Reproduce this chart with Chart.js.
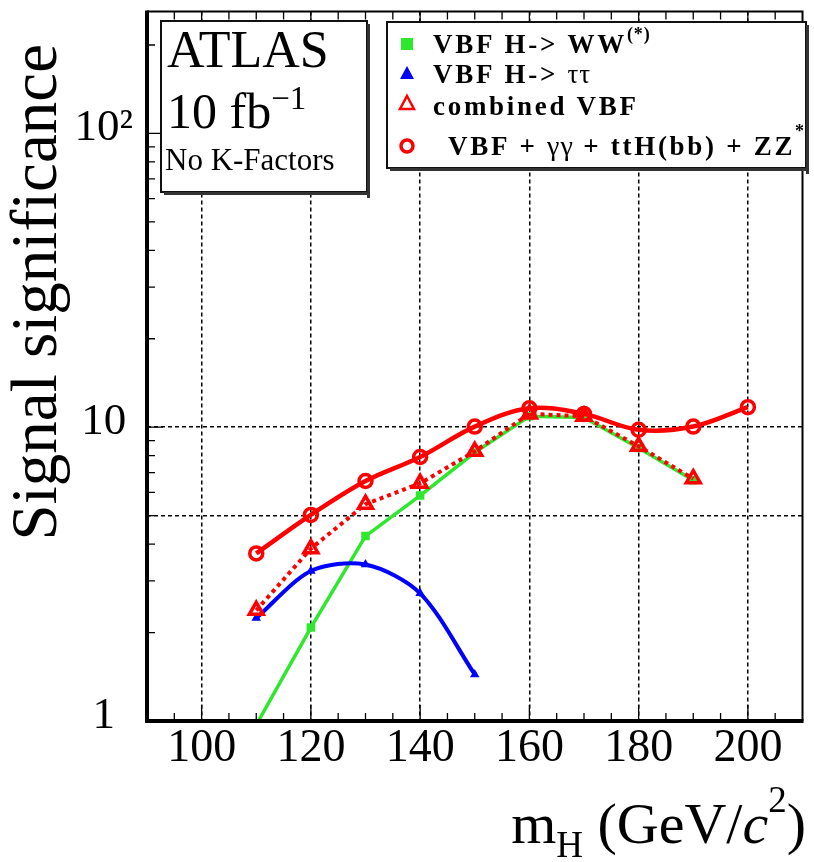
<!DOCTYPE html>
<html>
<head>
<meta charset="utf-8">
<script src="https://cdn.jsdelivr.net/npm/chart.js@4.4.1/dist/chart.umd.min.js"></script>
<style>
html,body{margin:0;padding:0;background:#fff;}
#wrap{width:814px;height:862px;}
</style>
</head>
<body>
<div id="wrap"><canvas id="c" width="814" height="862"></canvas></div>
<script>
// ---- data ----
const wwMass = [110, 120, 130, 140, 150, 160, 170, 180, 190];
const wwSignif = [0.97, 2.08, 4.26, 5.85, 8.2, 10.9, 10.8, 8.5, 6.6];

const tautauMass = [110, 120, 130, 140, 150];
const tautauSignif = [2.24, 3.24, 3.41, 2.72, 1.44];

const combinedMass = [110, 120, 130, 140, 150, 160, 170, 180, 190];
const combinedSignif = [2.38, 3.86, 5.47, 6.44, 8.28, 11.1, 10.9, 8.61, 6.68];

const allChannelsMass = [110, 120, 130, 140, 150, 160, 170, 180, 190, 200];
const allChannelsSignif = [3.72, 5.03, 6.56, 7.92, 10.05, 11.6, 11.1, 9.8, 10.05, 11.7];

const xTickValues = [95,100,105,110,115,120,125,130,135,140,145,150,155,160,165,170,175,180,185,190,195,200,205];
const xLabelValues = [100, 120, 140, 160, 180, 200];
const yTickValues = [1,2,3,4,5,6,7,8,9,10,20,30,40,50,60,70,80,90,100,200];
const yTickLabels = {1: '1', 10: '10', 100: '10\u00B2'};
const yGridValues = [5, 10];

const legendEntries = ['VBF H-> WW(*)', 'VBF H-> \u03C4\u03C4', 'combined VBF', 'VBF + \u03B3\u03B3 + ttH(bb) + ZZ*'];

// ---- colours ----
const GREEN = '#2ee82e';
const BLUE = '#0000ff';
const RED = '#ff0000';

const toXY = (xs, ys) => xs.map((x, i) => ({x: x, y: ys[i]}));
const SERIF = "'Liberation Serif', 'DejaVu Serif', serif";

function drawRich(ctx, x, y, parts, align) {
  const widths = parts.map(p => {
    ctx.font = p.font;
    ctx.letterSpacing = p.ls || '0px';
    return ctx.measureText(p.text).width;
  });
  const total = widths.reduce((a, b) => a + b, 0);
  let cx = align === 'right' ? x - total : x;
  parts.forEach((p, i) => {
    ctx.font = p.font;
    ctx.letterSpacing = p.ls || '0px';
    ctx.fillText(p.text, cx, y + (p.dy || 0));
    cx += widths[i];
  });
  ctx.letterSpacing = '0px';
}

function paveBox(ctx, x1, y1, x2, y2) {
  ctx.save();
  ctx.fillStyle = '#ffffff';
  ctx.fillRect(x1, y1, x2 - x1, y2 - y1);
  ctx.strokeStyle = '#111';
  ctx.lineWidth = 2;
  ctx.strokeRect(x1, y1, x2 - x1, y2 - y1);
  // shadow (bottom / right)
  ctx.fillStyle = '#333';
  ctx.fillRect(x1 + 3, y2, x2 - x1, 3);
  ctx.fillRect(x2, y1 + 3, 3, y2 - y1 + 3);
  ctx.restore();
}

const framePlugin = {
  id: 'frame',
  afterDatasetsDraw(chart) {
    const ctx = chart.ctx;
    const a = chart.chartArea;
    const xs = chart.scales.x, ys = chart.scales.y;
    ctx.save();
    ctx.strokeStyle = '#000';
    // inner tick marks
    ctx.lineWidth = 1.3;
    ctx.beginPath();
    xTickValues.forEach(v => {
      const px = xs.getPixelForValue(v);
      const len = xLabelValues.includes(v) ? 16 : 8;
      ctx.moveTo(px, a.bottom); ctx.lineTo(px, a.bottom - len);
      ctx.moveTo(px, a.top); ctx.lineTo(px, a.top + len);
    });
    yTickValues.forEach(v => {
      const py = ys.getPixelForValue(v);
      const len = yTickLabels[v] ? 16 : 8;
      ctx.moveTo(a.left, py); ctx.lineTo(a.left + len, py);
    });
    ctx.stroke();
    // frame
    ctx.lineWidth = 2;
    ctx.beginPath();
    ctx.moveTo(a.left, a.top); ctx.lineTo(a.right, a.top); ctx.lineTo(a.right, a.bottom);
    ctx.stroke();
    ctx.lineWidth = 4;
    ctx.beginPath();
    ctx.moveTo(a.left, a.top - 1); ctx.lineTo(a.left, a.bottom); ctx.lineTo(a.right + 1, a.bottom);
    ctx.stroke();

    // ATLAS box
    paveBox(ctx, 161, 21, 367, 192);
    ctx.fillStyle = '#000';
    ctx.textBaseline = 'alphabetic';
    ctx.textAlign = 'left';
    drawRich(ctx, 167, 67, [{text: 'ATLAS', font: '52px ' + SERIF}]);
    drawRich(ctx, 167, 128, [
      {text: '10 fb', font: '50px ' + SERIF},
      {text: '\u22121', font: '33px ' + SERIF, dy: -19}
    ]);
    drawRich(ctx, 165, 170, [{text: 'No K-Factors', font: '31px ' + SERIF}]);

    // Legend box
    paveBox(ctx, 387, 22, 806, 168);
    const B = 'bold 27px ' + SERIF;
    const LS = '2.7px';
    // markers
    const mx = 407;
    ctx.fillStyle = GREEN;
    ctx.fillRect(mx - 6, 44 - 6, 12, 12);
    ctx.fillStyle = BLUE;
    ctx.beginPath(); ctx.moveTo(mx, 66); ctx.lineTo(mx + 7, 79); ctx.lineTo(mx - 7, 79); ctx.closePath(); ctx.fill();
    ctx.strokeStyle = RED; ctx.lineWidth = 2.5;
    ctx.beginPath(); ctx.moveTo(mx, 96); ctx.lineTo(mx + 7, 109); ctx.lineTo(mx - 7, 109); ctx.closePath(); ctx.stroke();
    ctx.lineWidth = 3.5;
    ctx.beginPath(); ctx.arc(mx, 146, 6, 0, Math.PI * 2); ctx.stroke();
    ctx.fillStyle = '#000';
    drawRich(ctx, 433, 53, [
      {text: 'VBF H-> WW', font: B, ls: LS},
      {text: '(*)', font: 'bold 18px ' + SERIF, dy: -13, ls: '1px'}
    ]);
    drawRich(ctx, 433, 83, [
      {text: 'VBF H-> ', font: B, ls: LS},
      {text: '\u03C4\u03C4', font: '27px ' + SERIF, ls: '1px'}
    ]);
    drawRich(ctx, 433, 115, [{text: 'combined VBF', font: B, ls: LS}]);
    drawRich(ctx, 448, 155, [
      {text: 'VBF + ', font: B, ls: LS},
      {text: '\u03B3\u03B3', font: '28px ' + SERIF, ls: '1px'},
      {text: ' + ttH(bb) + ZZ', font: B, ls: LS},
      {text: '*', font: 'bold 18px ' + SERIF, dy: -18}
    ]);

    // x-axis title
    drawRich(ctx, 806, 843, [
      {text: 'm', font: '58px ' + SERIF},
      {text: 'H', font: '37px ' + SERIF, dy: 14},
      {text: ' (GeV/', font: '58px ' + SERIF},
      {text: 'c', font: 'italic 58px ' + SERIF},
      {text: '2', font: '37px ' + SERIF, dy: -31},
      {text: ')', font: '58px ' + SERIF}
    ], 'right');
    ctx.restore();
  }
};

const chart = new Chart(document.getElementById('c'), {
  type: 'line',
  data: {
    datasets: [
      {
        label: legendEntries[0], data: toXY(wwMass, wwSignif), order: 4,
        borderColor: GREEN, backgroundColor: GREEN, borderWidth: 3.5, tension: 0,
        pointStyle: 'rect', pointRadius: 6, pointBorderWidth: 0, pointBackgroundColor: GREEN
      },
      {
        label: legendEntries[1], data: toXY(tautauMass, tautauSignif), order: 3,
        borderColor: BLUE, backgroundColor: BLUE, borderWidth: 4, tension: 0.3,
        pointStyle: 'triangle', pointRadius: 5.5, pointBorderWidth: 0, pointBackgroundColor: BLUE
      },
      {
        label: legendEntries[3], data: toXY(allChannelsMass, allChannelsSignif), order: 2,
        borderColor: RED, borderWidth: 4.5, tension: 0.35,
        pointStyle: 'circle', pointRadius: 6.5, pointBorderWidth: 3.5,
        pointBorderColor: RED, pointBackgroundColor: 'rgba(255,255,255,0)'
      },
      {
        label: legendEntries[2], data: toXY(combinedMass, combinedSignif), order: 1,
        borderColor: RED, borderWidth: 4, borderDash: [4, 4], tension: 0,
        pointStyle: 'triangle', pointRadius: 8, pointBorderWidth: 3.5,
        pointBorderColor: RED, pointBackgroundColor: 'rgba(255,255,255,0)'
      }
    ]
  },
  options: {
    responsive: false,
    animation: false,
    devicePixelRatio: 1,
    layout: {padding: {top: 6, right: 4, left: 0, bottom: 0}},
    plugins: {legend: {display: false}, tooltip: {enabled: false}},
    scales: {
      x: {
        type: 'linear', min: 90, max: 210,
        afterBuildTicks: s => { s.ticks = xTickValues.map(v => ({value: v})); },
        afterFit: s => { s.height = 141; s.paddingLeft = 0; s.paddingRight = 0; },
        ticks: {
          autoSkip: false, maxRotation: 0, padding: 0, color: '#000',
          font: {family: SERIF, size: 46},
          callback: v => xLabelValues.includes(v) ? String(v) : ''
        },
        grid: {
          drawTicks: false, lineWidth: 1.5,
          color: c => (c.tick && xLabelValues.includes(c.tick.value)) ? '#000' : 'rgba(0,0,0,0)'
        },
        border: {display: false, dash: [4, 3]}
      },
      y: {
        type: 'logarithmic', min: 1, max: 260,
        afterBuildTicks: s => { s.ticks = yTickValues.map(v => ({value: v})); },
        afterFit: s => { s.width = 147; s.paddingTop = 0; s.paddingBottom = 0; },
        ticks: {
          autoSkip: false, padding: 14, crossAlign: 'center', labelOffset: -5, color: '#000',
          font: {family: SERIF, size: 45},
          callback: v => yTickLabels[v] || ''
        },
        grid: {
          drawTicks: false, lineWidth: 1.5,
          color: c => (c.tick && yGridValues.includes(c.tick.value)) ? '#000' : 'rgba(0,0,0,0)'
        },
        border: {display: false, dash: [4, 3]},
        title: {
          display: true, text: 'Signal significance  ', align: 'end', color: '#000',
          font: {family: SERIF, size: 65}, padding: {top: 0, bottom: 0}
        }
      }
    }
  },
  plugins: [framePlugin]
});
</script>
</body>
</html>
